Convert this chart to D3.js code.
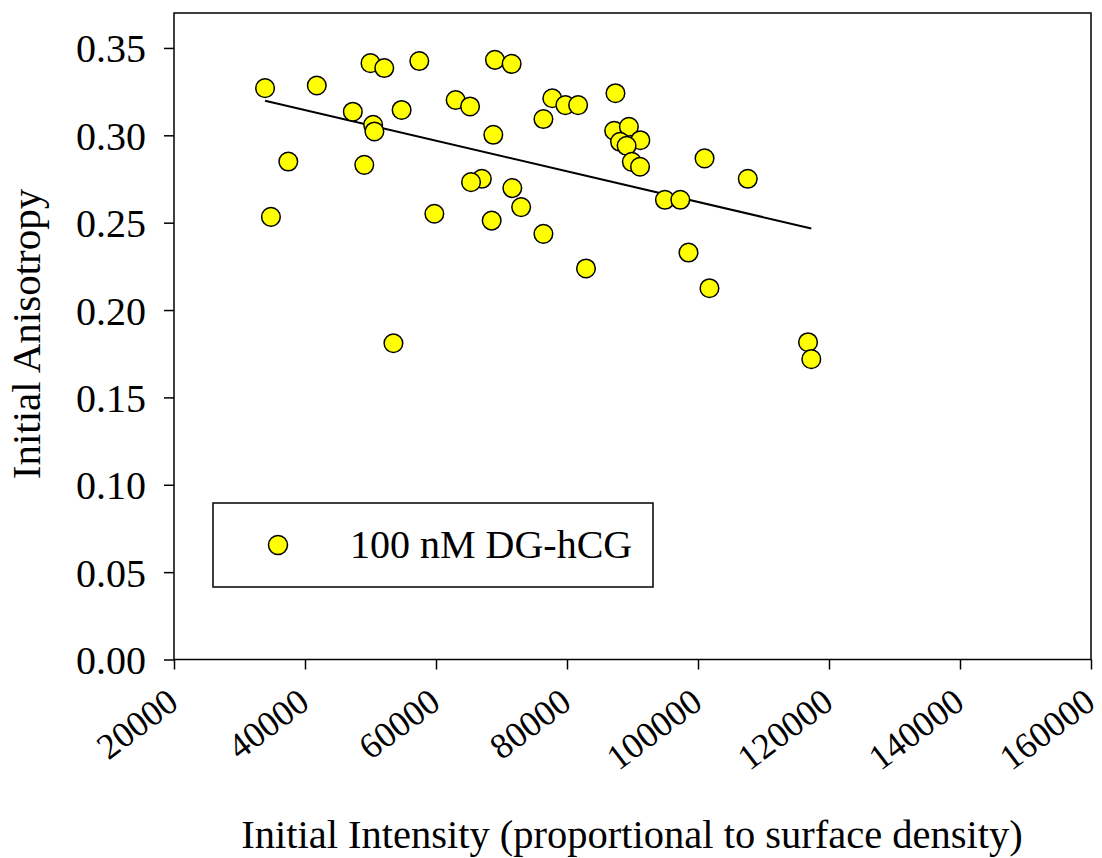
<!DOCTYPE html>
<html>
<head>
<meta charset="utf-8">
<script src="https://cdn.jsdelivr.net/npm/d3@7"></script>
<style>
  body { margin: 0; background: #fff; }
  svg text { font-family: 'Liberation Serif', 'Times New Roman', serif; fill: #000; }
</style>
</head>
<body>
<div id="chart"></div>
<script>
  // Data
  var intensity = [
    33900, 41800, 50000, 52100, 57450, 69000, 71550, 47300, 50400, 50600,
    54750, 63000, 65200, 68750, 77750, 79750, 81700, 76400, 87400, 87200,
    89450, 88100, 91200, 89100, 89900, 91150, 101000, 107600, 94950, 97300,
    37450, 49050, 67000, 65350, 71650, 73000, 59750, 68500, 76400, 34800,
    82900, 53500, 98550, 101750, 116800, 117300
  ]
  var anisotropy = [
    0.327, 0.3285, 0.3413, 0.3385, 0.3425, 0.3432, 0.3409, 0.3135, 0.306, 0.3022,
    0.3145, 0.3202, 0.3165, 0.3003, 0.3212, 0.3173, 0.3173, 0.3093, 0.3241, 0.3026,
    0.3049, 0.2963, 0.2972, 0.294, 0.2848, 0.282, 0.2868, 0.2751, 0.2631, 0.2631,
    0.285, 0.2831, 0.2751, 0.2732, 0.2698, 0.2589, 0.2551, 0.2512, 0.2436, 0.2533,
    0.2238, 0.181, 0.2329, 0.2125, 0.1816, 0.1719
  ]
  // Linear fit end points
  var fitX = [33900, 117300]
  var fitY = [0.3198, 0.2467]

  var xTicks = [20000, 40000, 60000, 80000, 100000, 120000, 140000, 160000]
  var yTicks = [0, 0.05, 0.10, 0.15, 0.20, 0.25, 0.30, 0.35]
  var seriesName = '100 nM DG-hCG'

  ;(function () {
    var serif = "'Liberation Serif', 'Times New Roman', serif"
    var width = 1102
    var height = 858
    var plotLeft = 174
    var plotRight = 1091
    var plotTop = 13
    var plotBottom = 659.5

    var svg = d3.select('#chart').append('svg')
      .attr('width', width)
      .attr('height', height)

    var x = d3.scaleLinear().domain([20000, 160000]).range([plotLeft, plotRight])
    var y = d3.scaleLinear().domain([0, 0.37]).range([plotBottom, plotTop])

    // Axes
    var yAxis = d3.axisLeft(y).tickValues(yTicks).tickSize(10).tickPadding(18)
      .tickFormat(d3.format('.2f'))
    var yg = svg.append('g')
      .attr('transform', 'translate(' + plotLeft + ',0)')
      .call(yAxis)
      .attr('font-family', serif)
      .attr('font-size', 40)
    yg.select('.domain').remove()
    yg.selectAll('.tick line').attr('stroke', '#000').attr('stroke-width', 1.5)
    yg.selectAll('.tick text').attr('dy', '0.35em')

    var xAxis = d3.axisBottom(x).tickValues(xTicks).tickSize(10)
      .tickFormat(d3.format('d'))
    var xg = svg.append('g')
      .attr('transform', 'translate(0,' + plotBottom + ')')
      .call(xAxis)
      .attr('font-family', serif)
      .attr('font-size', 36)
    xg.select('.domain').remove()
    xg.selectAll('.tick line').attr('stroke', '#000').attr('stroke-width', 1.5)
    xg.selectAll('.tick text')
      .attr('text-anchor', 'end')
      .attr('y', 0)
      .attr('dy', 0)
      .attr('transform', 'translate(6,47) rotate(-37)')

    // Frame
    svg.append('rect')
      .attr('x', plotLeft)
      .attr('y', plotTop)
      .attr('width', plotRight - plotLeft)
      .attr('height', plotBottom - plotTop)
      .attr('fill', 'none')
      .attr('stroke', '#000')
      .attr('stroke-width', 1.5)

    // Fit line
    svg.append('line')
      .attr('x1', x(fitX[0]))
      .attr('y1', y(fitY[0]))
      .attr('x2', x(fitX[1]))
      .attr('y2', y(fitY[1]))
      .attr('stroke', '#000')
      .attr('stroke-width', 2)

    // Points
    svg.append('g').selectAll('circle')
      .data(d3.range(intensity.length))
      .enter().append('circle')
      .attr('cx', function (i) { return x(intensity[i]) })
      .attr('cy', function (i) { return y(anisotropy[i]) })
      .attr('r', 9.3)
      .attr('fill', '#ffff00')
      .attr('stroke', '#000')
      .attr('stroke-width', 1.5)

    // Legend
    var lg = svg.append('g')
    lg.append('rect')
      .attr('x', 213)
      .attr('y', 503)
      .attr('width', 440)
      .attr('height', 84)
      .attr('fill', '#fff')
      .attr('stroke', '#000')
      .attr('stroke-width', 1.5)
    lg.append('circle')
      .attr('cx', 278)
      .attr('cy', 545)
      .attr('r', 9.5)
      .attr('fill', '#ffff00')
      .attr('stroke', '#000')
      .attr('stroke-width', 1.5)
    lg.append('text')
      .attr('x', 350)
      .attr('y', 558)
      .style('font-size', '40px')
      .text(seriesName)

    // Axis titles
    svg.append('text')
      .attr('transform', 'translate(40,334) rotate(-90)')
      .attr('text-anchor', 'middle')
      .style('font-size', '41px')
      .text('Initial Anisotropy')

    svg.append('text')
      .attr('x', 632)
      .attr('y', 848)
      .attr('text-anchor', 'middle')
      .style('font-size', '40.5px')
      .text('Initial Intensity (proportional to surface density)')
  }())
</script>
</body>
</html>
